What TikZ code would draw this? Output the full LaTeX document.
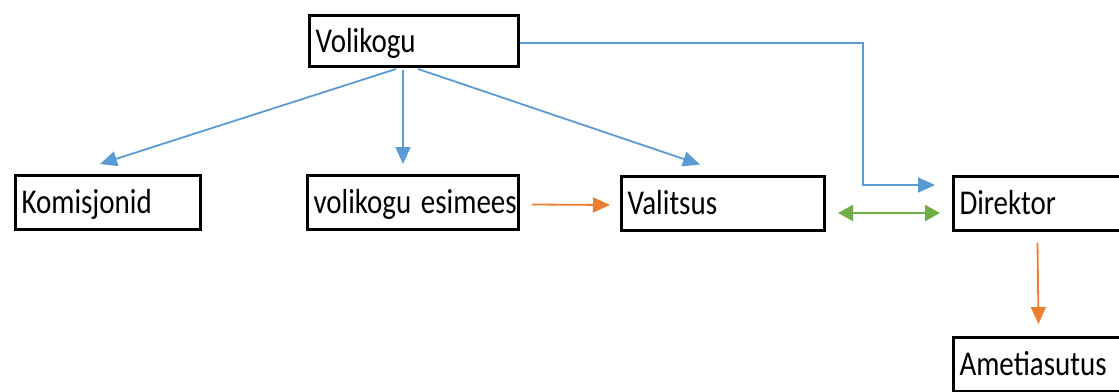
\documentclass[tikz,border=0pt]{standalone}
\usepackage{fontspec}
\setmainfont{Carlito}
\usetikzlibrary{arrows.meta,calc}
\definecolor{obl}{RGB}{91,155,213}
\definecolor{oor}{RGB}{237,125,49}
\definecolor{ogr}{RGB}{112,173,71}
\tikzset{
  box/.style={draw=black, line width=3pt, rectangle, inner xsep=6pt, inner ysep=0pt,
    minimum height=54pt, text height=22.5pt, text depth=0pt, align=left,
    font=\fontsize{29}{30}\selectfont},
  barrow/.style={draw=obl, line width=1.8pt, -{Triangle[length=17pt,width=15pt]}},
  oarrow/.style={draw=oor, line width=1.8pt, -{Triangle[length=17pt,width=15pt]}},
  garrow/.style={draw=ogr, line width=2.2pt, {Triangle[length=15pt,width=16pt]}-{Triangle[length=15pt,width=16pt]}}
}
\newcommand{\tall}[1]{\scalebox{1}[1.2]{#1}}
\begin{document}
\begin{tikzpicture}[x=1pt,y=-1pt]
\clip (0,0) rectangle (1119,391);
\fill[white] (0,0) rectangle (1119,391);
\node[box, minimum height=51pt, minimum width=209pt, text width=197pt] (vol) at (414,41) {\tall{Volikogu}};
\node[box, minimum width=185pt, text width=173pt] (kom) at (108,202.5) {\tall{Komisjonid}};
\node[box, minimum width=211pt, text width=199pt] (esi) at (413,202.5) {\tall{volikogu esimees}};
\node[box, minimum width=203pt, text width=191pt] (val) at (723,203) {\tall{Valitsus}};
\node[box, minimum width=200pt, text width=188pt] (dir) at (1053.5,203) {\tall{Direktor}};
\node[box, minimum width=200pt, text width=188pt] (ame) at (1053.5,364.5) {\tall{Ametiasutus}};
\coordinate (elbx) at (863,0);
\draw[barrow] ([xshift=-18pt,yshift=-1pt]vol.south) -- ([xshift=-8pt,yshift=10pt]kom.north);
\draw[barrow] ([xshift=-11pt,yshift=-2pt]vol.south) -- ([xshift=-10pt,yshift=10pt]esi.north);
\draw[barrow] ([xshift=4pt,yshift=-1pt]vol.south) -- ([xshift=-23pt,yshift=10pt]val.north);
\draw[barrow] ([yshift=-2pt]vol.east) -- ([yshift=-2pt]vol.east -| elbx) |- ([xshift=-17pt,yshift=18pt]dir.west);
\draw[oarrow] ([xshift=12pt,yshift=-2pt]esi.east) -- ([xshift=-10pt,yshift=-2pt]val.west);
\draw[garrow] ([xshift=12pt,yshift=-10pt]val.east) -- ([xshift=-12pt,yshift=-10pt]dir.west);
\draw[oarrow] ([xshift=-16pt,yshift=-11pt]dir.south) -- ([xshift=-15pt,yshift=12pt]ame.north);
\end{tikzpicture}
\end{document}
